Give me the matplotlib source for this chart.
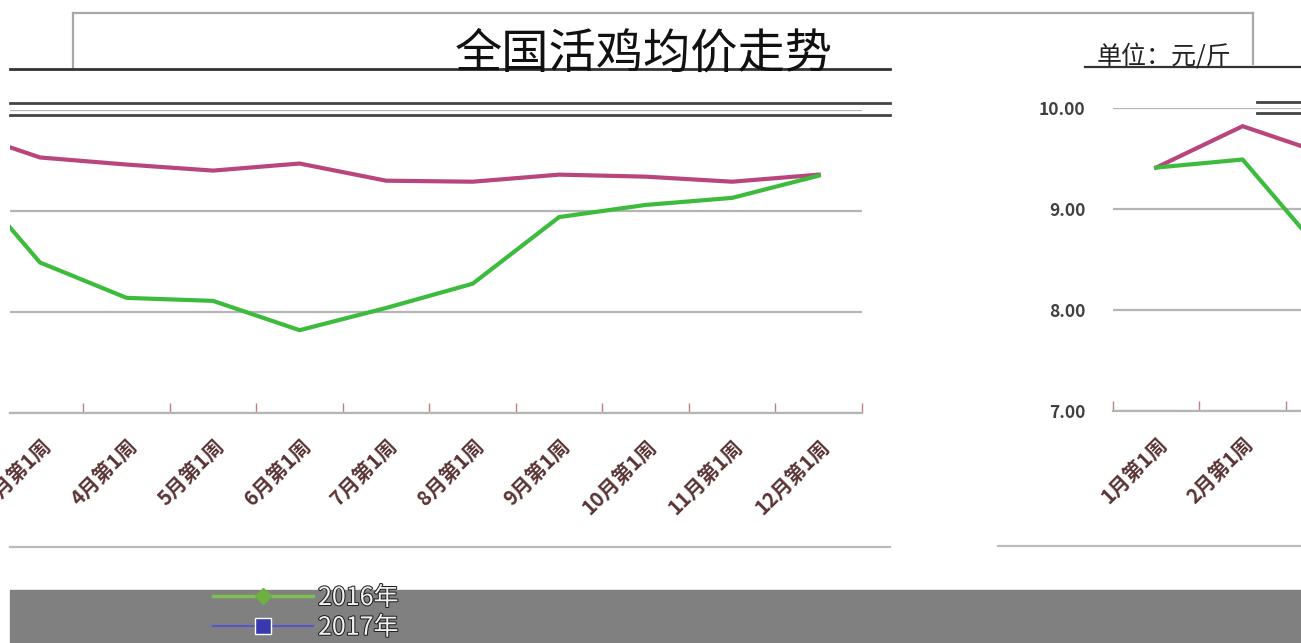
import matplotlib.pyplot as plt
import matplotlib.patheffects as pe
from matplotlib.lines import Line2D
from matplotlib.patches import Rectangle

plt.rcParams['font.family'] = ['Noto Sans CJK SC', 'DejaVu Sans']

# 数据
months = ['1月第1周', '2月第1周', '3月第1周', '4月第1周', '5月第1周', '6月第1周',
          '7月第1周', '8月第1周', '9月第1周', '10月第1周', '11月第1周', '12月第1周']
price_2016 = [9.41, 9.49, 8.49, 8.14, 8.11, 7.82, 8.04, 8.28, 8.94, 9.06, 9.13, 9.35]
price_2017 = [9.41, 9.82, 9.53, 9.46, 9.40, 9.47, 9.30, 9.29, 9.36, 9.34, 9.29, 9.36]
yticks = [7.0, 8.0, 9.0, 10.0]

W, H = 1301, 643
fig = plt.figure(figsize=(W / 100, H / 100), dpi=100)


def px_box(x0, y0, x1, y1):
    # 픽셀 좌표 -> figure 비율
    return [x0 / W, 1 - y1 / H, (x1 - x0) / W, (y1 - y0) / H]


def fig_line(x0, x1, y, color, lw):
    fig.add_artist(Line2D([x0 / W, x1 / W], [1 - y / H, 1 - y / H],
                          color=color, lw=lw, transform=fig.transFigure))


green = '#3dbb3d'
pink = '#b8467c'
grid_c = '#b5b5b5'
label_c = '#5a3434'


def setup(ax, xlim, tick_pos):
    x = list(range(len(months)))
    ax.plot(x, price_2017, color=pink, lw=3, solid_joinstyle='miter')
    ax.plot(x, price_2016, color=green, lw=3, solid_joinstyle='miter')
    ax.set_yticks(yticks)
    ax.yaxis.grid(True, color=grid_c, lw=1.6)
    ax.set_axisbelow(True)
    for s in ['top', 'right', 'left']:
        ax.spines[s].set_visible(False)
    ax.spines['bottom'].set_color(grid_c)
    ax.spines['bottom'].set_linewidth(1.6)
    ax.set_xticks(tick_pos)
    ax.set_xticklabels([])
    ax.set_xticks(x, minor=True)
    ax.set_xticklabels(months, minor=True, rotation=45, ha='right',
                       rotation_mode='anchor', fontsize=14.5, color=label_c,
                       fontweight='bold')
    ax.tick_params(axis='x', which='major', direction='in', length=7,
                   color='#c08080', width=1)
    ax.tick_params(axis='x', which='minor', length=0, pad=16)
    ax.set_xlim(*xlim)
    ax.set_ylim(7, 10)
    ax.patch.set_alpha(0)


# 왼쪽 부분
ax1 = fig.add_axes(px_box(10, 110, 862, 413))
setup(ax1, (1.653, 11.5), [i + 0.5 for i in range(2, 12)])
ax1.tick_params(axis='y', left=False, labelleft=False)

# 오른쪽 부분
ax2 = fig.add_axes(px_box(1113, 108, 1301, 411))
setup(ax2, (-0.5, 1.676), [-0.5, 0.5, 1.5])
ax2.yaxis.set_major_formatter(plt.FormatStrFormatter('%.2f'))
ax2.tick_params(axis='y', length=0, pad=20, labelsize=12.5, labelcolor='#404040')
for t in ax2.get_yticklabels():
    t.set_fontweight('bold')

# 제목 상자
fig_line(73, 1253, 13, '#a8a8a8', 1.6)
fig.add_artist(Line2D([73 / W, 73 / W], [1 - 13 / H, 1 - 68 / H],
                      color='#a8a8a8', lw=1.6, transform=fig.transFigure))
fig.add_artist(Line2D([1253 / W, 1253 / W], [1 - 13 / H, 1 - 64 / H],
                      color='#a8a8a8', lw=1.6, transform=fig.transFigure))
fig.text(644 / W, 1 - 54 / H, '全国活鸡均价走势', fontsize=34, ha='center',
         va='center', color='#111111')
fig.text(1164 / W, 1 - 57 / H, '单位：元/斤', fontsize=18, ha='center',
         va='center', color='#222222')

# 잡선
fig_line(10, 890, 69, '#333333', 2)
fig_line(1085, 1301, 67, '#333333', 1.6)
fig_line(10, 890, 103, '#444444', 2)
fig_line(10, 890, 115, '#444444', 2)
fig_line(1257, 1301, 102, '#444444', 2)
fig_line(1257, 1301, 113, '#444444', 2)
fig_line(10, 890, 547, '#bbbbbb', 1.6)
fig_line(998, 1301, 546, '#bbbbbb', 1.6)

# 아래 회색 띠와 범례
fig.add_artist(Rectangle((10 / W, 0), (W - 10) / W, 53 / H, color='#808080',
                         transform=fig.transFigure, zorder=0))
handles = [Line2D([], [], color='#7cc050', lw=2.5, marker='D', ms=8,
                  markerfacecolor='#6cb040', markeredgecolor='#6cb040'),
           Line2D([], [], color='#5555cc', lw=1.5, marker='s', ms=11,
                  markerfacecolor='#3a3ab0', markeredgecolor='#ffffff')]
leg = fig.legend(handles, ['2016年', '2017年'], loc='upper left',
                 bbox_to_anchor=(213 / W, 1 - 585 / H), frameon=False,
                 fontsize=18, handlelength=4.0, labelspacing=0.15,
                 handletextpad=0.2, borderpad=0, borderaxespad=0)
for t in leg.get_texts():
    t.set_color('#f2f2f2')
    t.set_path_effects([pe.withStroke(linewidth=1.5, foreground='#222222')])

plt.savefig('out.png', dpi=100)
